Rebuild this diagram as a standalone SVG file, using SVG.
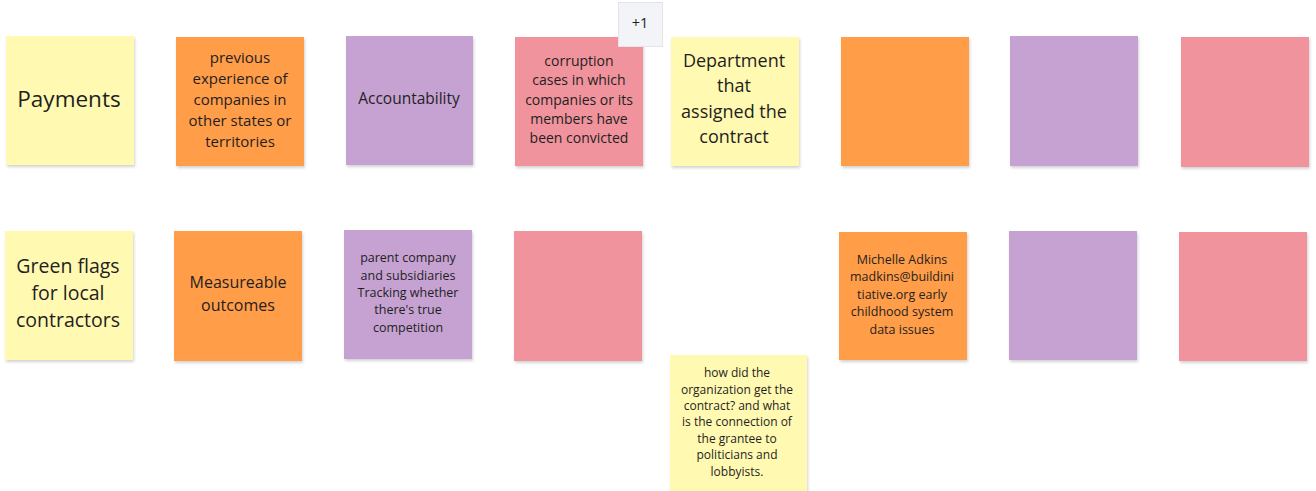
<svg xmlns="http://www.w3.org/2000/svg" width="1316" height="491" viewBox="0 0 1316 491">
<defs>
<filter id="sh" x="-10%" y="-10%" width="125%" height="125%">
<feGaussianBlur in="SourceAlpha" stdDeviation="1.5"/>
<feOffset dx="1" dy="2" result="b"/>
<feComponentTransfer><feFuncA type="linear" slope="0.18"/></feComponentTransfer>
<feMerge><feMergeNode/><feMergeNode in="SourceGraphic"/></feMerge>
</filter>
</defs>
<style>
.y{fill:#fff9b1}
.o{fill:#ff9d48}
.p{fill:#c6a2d2}
.r{fill:#f0939d}
.n{filter:url(#sh)}
text{font-family:"Open Sans","Noto Sans","Liberation Sans",sans-serif;fill:#1f1f1f;text-anchor:middle}
</style>
<rect width="1316" height="491" fill="#ffffff"/>
<g id="connectors"/>
<g id="n-payments"><rect class="y n" x="6" y="36" width="128" height="129"/><text x="69" y="107" font-size="22.5">Payments</text></g>
<g id="n-previous"><rect class="o n" x="176" y="37" width="128" height="129"/><text font-size="15"><tspan x="240" y="63">previous</tspan><tspan x="240" y="84">experience of</tspan><tspan x="240" y="105">companies in</tspan><tspan x="240" y="126">other states or</tspan><tspan x="240" y="147">territories</tspan></text></g>
<g id="n-accountability"><rect class="p n" x="346" y="36" width="127" height="129"/><text x="409" y="104" font-size="15.5">Accountability</text></g>
<g id="n-corruption"><rect class="r n" x="515" y="37" width="128" height="129"/><text font-size="14"><tspan x="579" y="66">corruption</tspan><tspan x="579" y="85">cases in which</tspan><tspan x="579" y="105">companies or its</tspan><tspan x="579" y="124">members have</tspan><tspan x="579" y="143">been convicted</tspan></text></g>
<g id="n-plus1"><rect x="618.5" y="2.5" width="44" height="44" fill="#f3f4f7" stroke="#e3e4e8"/><text x="640" y="28" font-size="14.5">+1</text></g>
<g id="n-department"><rect class="y n" x="671" y="37" width="128" height="129"/><text font-size="18"><tspan x="734" y="67">Department</tspan><tspan x="734" y="92">that</tspan><tspan x="734" y="118">assigned the</tspan><tspan x="734" y="143">contract</tspan></text></g>
<g id="n-orange1"><rect class="o n" x="841" y="37" width="128" height="129"/></g>
<g id="n-purple1"><rect class="p n" x="1010" y="36" width="128" height="130"/></g>
<g id="n-pink1"><rect class="r n" x="1181" y="37" width="128" height="130"/></g>
<g id="n-greenflags"><rect class="y n" x="5" y="231" width="128" height="129"/><text font-size="19.5"><tspan x="68" y="273">Green flags</tspan><tspan x="68" y="300">for local</tspan><tspan x="68" y="327">contractors</tspan></text></g>
<g id="n-measureable"><rect class="o n" x="174" y="231" width="128" height="130"/><text font-size="16"><tspan x="238" y="288">Measureable</tspan><tspan x="238" y="311">outcomes</tspan></text></g>
<g id="n-parent"><rect class="p n" x="344" y="230" width="128" height="129"/><text font-size="12.5"><tspan x="408" y="262">parent company</tspan><tspan x="408" y="280">and subsidiaries</tspan><tspan x="408" y="297">Tracking whether</tspan><tspan x="408" y="314">there's true</tspan><tspan x="408" y="332">competition</tspan></text></g>
<g id="n-pink2"><rect class="r n" x="514" y="231" width="128" height="130"/></g>
<g id="n-howdid"><rect class="y n" x="670" y="355" width="137" height="140"/><text font-size="12"><tspan x="737" y="377">how did the</tspan><tspan x="737" y="394">organization get the</tspan><tspan x="737" y="410">contract? and what</tspan><tspan x="737" y="426">is the connection of</tspan><tspan x="737" y="443">the grantee to</tspan><tspan x="737" y="459">politicians and</tspan><tspan x="737" y="476">lobbyists.</tspan></text></g>
<g id="n-michelle"><rect class="o n" x="839" y="232" width="128" height="128"/><text font-size="12.5"><tspan x="902" y="264">Michelle Adkins</tspan><tspan x="902" y="281">madkins@buildini</tspan><tspan x="902" y="299">tiative.org early</tspan><tspan x="902" y="316">childhood system</tspan><tspan x="902" y="334">data issues</tspan></text></g>
<g id="n-purple2"><rect class="p n" x="1009" y="231" width="128" height="129"/></g>
<g id="n-pink3"><rect class="r n" x="1179" y="232" width="128" height="129"/></g>
</svg>
